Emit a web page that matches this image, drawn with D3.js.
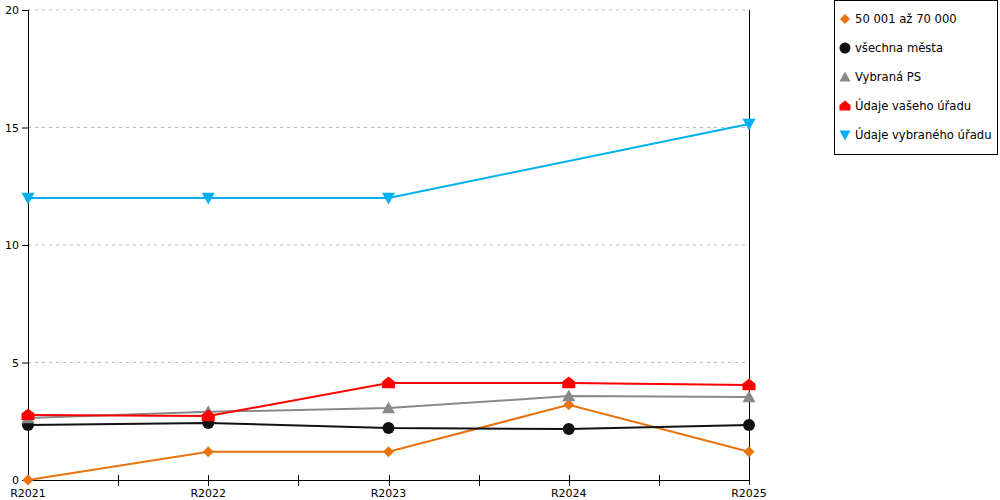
<!DOCTYPE html>
<html><head><meta charset="utf-8">
<script src="https://cdn.jsdelivr.net/npm/d3@7"></script>
<style>body{margin:0;background:#fff}svg{display:block}text{font-family:"DejaVu Sans",Verdana,sans-serif}</style>
</head><body><svg id="c" width="1000" height="500"></svg>
<script>
const categories = ["R2021","R2022","R2023","R2024","R2025"];
const seriesNames = ["50 001 až 70 000","všechna města","Vybraná PS","Údaje vašeho úřadu","Údaje vybraného úřadu"];
const valsOrange = [0, 1.2, 1.2, 3.2, 1.2];
const valsBlack = [2.34, 2.43, 2.21, 2.17, 2.34];
const valsGray = [2.64, 2.9, 3.06, 3.57, 3.53];
const valsRed = [2.77, 2.72, 4.13, 4.13, 4.04];
const valsBlue = [12, 12, 12, null, 15.15];
const yTicks = [0, 5, 10, 15, 20];
const colors = ["#e8730f","#111111","#888888","#ff0000","#00b0f0"];
const shapes = ["diamond","circle","up","house","down"];

const series = [valsOrange, valsBlack, valsGray, valsRed, valsBlue];
const svg = d3.select("#c");
const L = 28, R = 749, T = 10, B = 480;
const x = d3.scalePoint().domain(categories).range([L, R]);
const y = d3.scaleLinear().domain([0, 20]).range([B, T]);

// gridlines
svg.append("g").selectAll("line").data(yTicks.filter(d => d > 0)).join("line")
  .attr("x1", L).attr("x2", R).attr("y1", d => y(d)).attr("y2", d => y(d))
  .attr("stroke", "#bbb").attr("stroke-dasharray", "3,4");

// y axis
const ya = svg.append("g").attr("transform", `translate(${L},0)`)
  .call(d3.axisLeft(y).tickValues(yTicks).tickSize(6).tickPadding(3));
ya.select(".domain").remove();
ya.selectAll("line").attr("stroke", "#000");
ya.selectAll("text").attr("font-size", 11).attr("font-family", "DejaVu Sans").attr("fill", "#000");
svg.append("line").attr("x1", L + 0.5).attr("x2", L + 0.5).attr("y1", T).attr("y2", B).attr("stroke", "#000");
svg.append("line").attr("x1", R + 0.5).attr("x2", R + 0.5).attr("y1", T).attr("y2", B + 5).attr("stroke", "#000");

// x axis
svg.append("line").attr("x1", L).attr("x2", R).attr("y1", B + 0.5).attr("y2", B + 0.5).attr("stroke", "#000");
const step = x.step();
const tickPos = [];
for (let i = 0; i < categories.length - 1; i++) { tickPos.push(x(categories[i]) + step / 2); }
categories.slice(1, -1).forEach(c => tickPos.push(x(c)));
svg.append("g").selectAll("line").data(tickPos).join("line")
  .attr("x1", d => Math.round(d) + 0.5).attr("x2", d => Math.round(d) + 0.5)
  .attr("y1", B - 5).attr("y2", B + 6).attr("stroke", "#000");
svg.append("g").selectAll("text").data(categories).join("text")
  .attr("x", d => x(d)).attr("y", B + 17).attr("text-anchor", "middle")
  .attr("font-size", 11).attr("fill", "#000").text(d => d);

function symPath(shape, s) {
  if (shape === "diamond") return `M0,${-s}L${s},0L0,${s}L${-s},0Z`;
  if (shape === "circle") return d3.symbol(d3.symbolCircle, Math.PI * s * s)();
  if (shape === "up") return `M0,${-s}L${s},${s * 0.8}L${-s},${s * 0.8}Z`;
  if (shape === "down") return `M0,${s}L${s},${-s * 0.8}L${-s},${-s * 0.8}Z`;
  if (shape === "house") return `M0,${-s}L${s},${-s * 0.2}L${s},${s * 0.8}L${-s},${s * 0.8}L${-s},${-s * 0.2}Z`;
}
const sizes = [5.5, 6, 6.5, 6.5, 6.5];

const line = d3.line().defined(d => d.v != null).x(d => x(d.c)).y(d => y(d.v));
series.forEach((vals, i) => {
  const pts = categories.map((c, j) => ({c, v: vals[j]}));
  const def = pts.filter(d => d.v != null);
  svg.append("path").datum(def).attr("d", line)
    .attr("fill", "none").attr("stroke", colors[i]).attr("stroke-width", 2);
  svg.append("g").selectAll("path").data(def).join("path")
    .attr("transform", d => `translate(${x(d.c)},${y(d.v)})`)
    .attr("d", symPath(shapes[i], sizes[i])).attr("fill", colors[i]);
});

// legend
const lg = svg.append("g");
lg.append("rect").attr("x", 834.5).attr("y", 0.5).attr("width", 163).attr("height", 154)
  .attr("fill", "#fff").attr("stroke", "#000");
seriesNames.forEach((n, i) => {
  const yy = 19 + i * 29;
  lg.append("path").attr("transform", `translate(845,${yy})`)
    .attr("d", symPath(shapes[i], i === 0 ? 5 : 5.5)).attr("fill", colors[i]);
  lg.append("text").attr("x", 855).attr("y", yy + 4).attr("font-size", 11.6).attr("fill", "#000").text(n);
});
</script></body></html>
